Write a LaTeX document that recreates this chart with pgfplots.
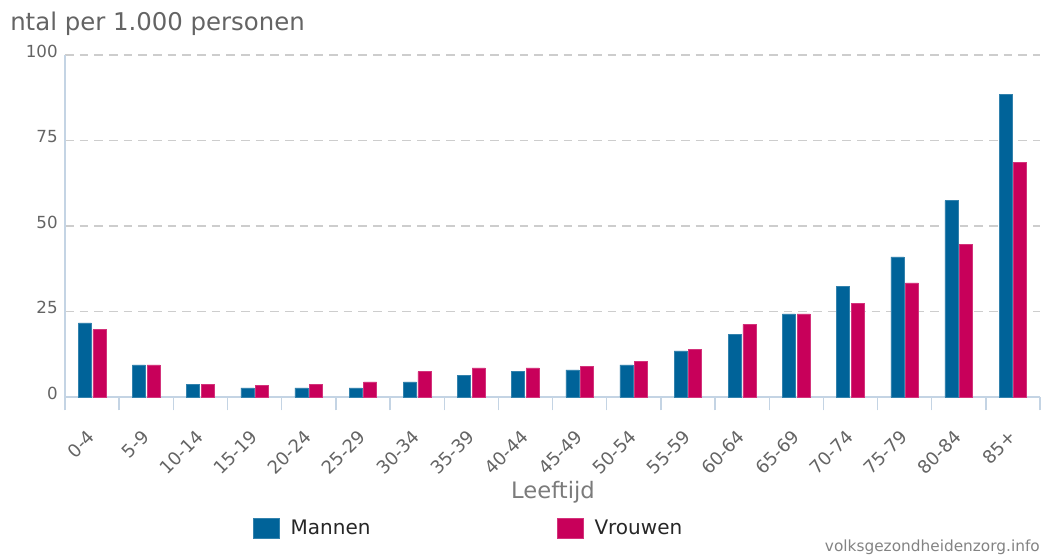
\documentclass[border=0pt]{standalone}
\usepackage{pgfplots}
\pgfplotsset{compat=1.18}
\usepackage{fontspec}
\setmainfont{DejaVu Sans}
\definecolor{mblue}{RGB}{0,99,153}
\definecolor{vpink}{RGB}{200,0,90}
\definecolor{axblue}{RGB}{196,212,228}
\definecolor{gridgray}{RGB}{205,205,205}
\definecolor{txtgray}{RGB}{100,100,100}
\begin{document}
\begin{tikzpicture}
\path (-48.75pt,297.75pt) rectangle (738pt,-120pt);
\begin{axis}[
  at={(0,0)}, anchor=south west,
  scale only axis, width=731.25pt, height=256.5pt,
  xmin=-0.5, xmax=17.5, ymin=0, ymax=100,
  axis x line*=bottom, axis y line*=left,
  axis line style={axblue, line width=1pt, -},
  /pgf/number format/assume math mode=true,
  xtick={0,...,17},
  xticklabels={0-4,5-9,10-14,15-19,20-24,25-29,30-34,35-39,40-44,45-49,50-54,55-59,60-64,65-69,70-74,75-79,80-84,85+},
  minor xtick={-0.5,0.5,...,17.5},
  ytick={0,25,50,75,100},
  major tick length=0pt, minor tick length=10pt, tick align=outside,
  minor tick style={axblue, line width=1pt},
  ymajorgrids, major grid style={gridgray, line width=0.9pt, dash pattern=on 6.5pt off 4.5pt},
  x tick label style={font=\fontsize{13.5}{15}\selectfont, text=txtgray, anchor=east, xshift=2pt, yshift=-25pt, rotate=45},
  y tick label style={font=\fontsize{12.5}{14}\selectfont, text=txtgray, yshift=3pt, xshift=-2pt},
  xlabel={Leeftijd},
  xlabel style={at={(axis description cs:0.5005,-0.278)}, anchor=center, font=\fontsize{17}{20}\selectfont, text=txtgray!85},
  ybar, bar width=0.24,
  legend columns=2,
  legend style={draw=none, fill=none, inner sep=0pt, at={(axis description cs:0.193,-0.383)}, anchor=west, font=\fontsize{15}{18}\selectfont, text=black!85},
  legend image code/.code={\fill[#1] (0pt,-7.5pt) rectangle (19.5pt,7.5pt);},
]
\addplot[fill=mblue, draw=mblue!80!white, bar shift=-0.135] coordinates {
(0,21.7) (1,9.4) (2,3.8) (3,2.7) (4,2.7) (5,2.7) (6,4.4) (7,6.3) (8,7.4) (9,7.9)
(10,9.4) (11,13.5) (12,18.2) (13,24.3) (14,32.4) (15,41.0) (16,57.4) (17,88.4)};
\addlegendentry{\hspace*{6pt}\makebox[198pt][l]{Mannen}}
\addplot[fill=vpink, draw=vpink!80!white, bar shift=0.135] coordinates {
(0,19.7) (1,9.4) (2,3.8) (3,3.3) (4,3.8) (5,4.4) (6,7.4) (7,8.5) (8,8.5) (9,8.9)
(10,10.5) (11,14.0) (12,21.2) (13,24.3) (14,27.3) (15,33.4) (16,44.6) (17,68.6)};
\addlegendentry{\hspace*{6pt}Vrouwen}
\end{axis}
\node[anchor=base west, text=txtgray, font=\fontsize{18.3}{21}\selectfont, inner sep=0pt] at (-41.25pt,275pt) {ntal per 1.000 personen};
\node[anchor=base east, text=txtgray!80, font=\fontsize{11.5}{13}\selectfont, inner sep=0pt] at (731.25pt,-116pt) {volksgezondheidenzorg.info};
\end{tikzpicture}
\end{document}
